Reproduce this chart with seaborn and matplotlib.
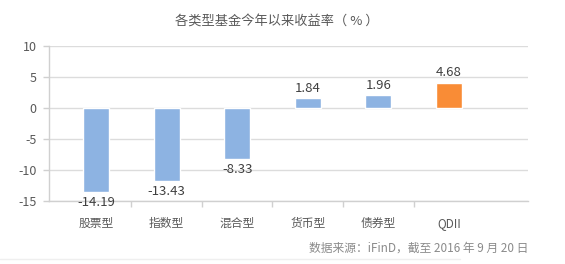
import matplotlib
matplotlib.use("Agg")
import matplotlib.pyplot as plt
import seaborn as sns
import pandas as pd

categories = ["股票型", "指数型", "混合型", "货币型", "债券型", "QDII"]
bar_heights = [-13.6, -11.8, -8.2, 1.5, 2.0, 4.0]
label_values = ["-14.19", "-13.43", "-8.33", "1.84", "1.96", "4.68"]
bar_colors = ["#8DB3E2", "#8DB3E2", "#8DB3E2", "#8DB3E2", "#8DB3E2", "#F98C36"]
yticks = [10, 5, 0, -5, -10, -15]
title = "各类型基金今年以来收益率（ % ）"
source = "数据来源：iFinD，截至 2016 年 9 月 20 日"

sns.set_theme(style="white")
plt.rcParams["font.family"] = ["Noto Sans CJK SC", "DejaVu Sans"]

fig = plt.figure(figsize=(5.65, 2.64), dpi=100)
ax = fig.add_axes([49 / 565, 1 - 200.7 / 264, (528 - 49) / 565, (200.7 - 45.7) / 264])

df = pd.DataFrame({"cat": categories, "val": bar_heights})
sns.barplot(data=df, x="cat", y="val", hue="cat", palette=bar_colors,
            width=0.37, legend=False, ax=ax, zorder=3, saturation=1)

ax.set_xlim(-0.666, 6.12)
ax.set_ylim(-15, 10)
ax.set_yticks(yticks)
ax.set_yticklabels([str(v) for v in yticks])
ax.yaxis.grid(True, color="#DCDCDC", linewidth=1.0, zorder=0)
ax.set_axisbelow(True)
ax.set_xlabel("")
ax.set_ylabel("")

for s in ["top", "right"]:
    ax.spines[s].set_visible(False)
for s in ["left", "bottom"]:
    ax.spines[s].set_color("#D0D0D0")
    ax.spines[s].set_linewidth(1.0)

ax.tick_params(axis="y", which="major", left=True, length=4, width=1, color="#D0D0D0",
               labelsize=9, labelcolor="#595959", pad=5)
ax.tick_params(axis="x", which="major", bottom=False, labelsize=8.5, labelcolor="#595959", pad=5.5)
ax.set_xticks([0.5, 1.5, 2.5, 3.5, 4.5], minor=True)
ax.tick_params(axis="x", which="minor", bottom=True, length=4, width=1, color="#D0D0D0")

for i, (h, lab) in enumerate(zip(bar_heights, label_values)):
    off = 10 if h > 0 else -10.5
    ax.annotate(lab, xy=(i, h), xytext=(0, off * 0.72), textcoords="offset points",
                ha="center", va="center", fontsize=9.5, color="#404040", zorder=5)

fig.text(277 / 565, 1 - 21 / 264, title, ha="center", va="center", fontsize=9.5, color="#595959")
fig.text(528 / 565, 1 - 248 / 264, source, ha="right", va="center", fontsize=8.5, color="#8A8A8A")
fig.add_artist(plt.Line2D([0, 460 / 565], [1 - 258.5 / 264, 1 - 258.5 / 264],
                          color="#EFEFEF", linewidth=1.0))

fig.savefig("out.png", dpi=100, facecolor="white")
